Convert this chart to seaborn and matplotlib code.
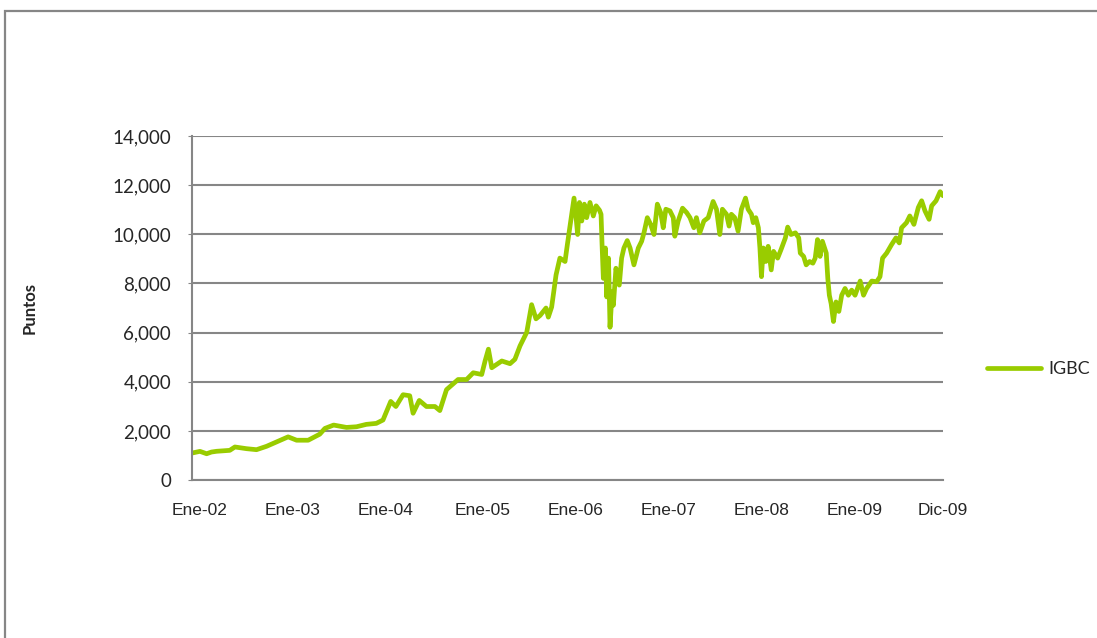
import pandas as pd
import numpy as np
import matplotlib.pyplot as plt
from matplotlib.patches import Rectangle
from matplotlib.ticker import FuncFormatter
import seaborn as sns

# Indice IGBC (puntos)
fechas = [
    '2002-01-02', '2002-02-01', '2002-02-27', '2002-03-18', '2002-04-07', '2002-05-28',
    '2002-06-17', '2002-08-01', '2002-09-09', '2002-10-18', '2002-11-26', '2003-01-10',
    '2003-02-12', '2003-03-29', '2003-05-13', '2003-06-02', '2003-07-06', '2003-08-25',
    '2003-10-03', '2003-11-10', '2003-12-19', '2004-01-14', '2004-02-13', '2004-03-04',
    '2004-04-01', '2004-04-27', '2004-05-10', '2004-06-03', '2004-07-01', '2004-08-03',
    '2004-08-22', '2004-09-17', '2004-11-01', '2004-12-04', '2004-12-30', '2005-02-01',
    '2005-02-14', '2005-02-27', '2005-03-12', '2005-04-20', '2005-05-22', '2005-06-10',
    '2005-06-30', '2005-07-26', '2005-08-14', '2005-08-31', '2005-09-16', '2005-10-09',
    '2005-10-18', '2005-10-31', '2005-11-17', '2005-12-02', '2005-12-22', '2005-12-31',
    '2006-01-17', '2006-01-26', '2006-02-03', '2006-02-09', '2006-02-16', '2006-02-25',
    '2006-03-07', '2006-03-16', '2006-03-29', '2006-04-11', '2006-04-22', '2006-05-05',
    '2006-05-11', '2006-05-15', '2006-05-20', '2006-05-28', '2006-06-02', '2006-06-09',
    '2006-06-15', '2006-06-23', '2006-06-28', '2006-07-08', '2006-07-21', '2006-07-30',
    '2006-08-08', '2006-08-21', '2006-09-01', '2006-09-16', '2006-10-03', '2006-10-16',
    '2006-10-25', '2006-11-07', '2006-11-20', '2006-12-03', '2006-12-16', '2006-12-29',
    '2007-01-08', '2007-01-18', '2007-02-03', '2007-02-16', '2007-02-22', '2007-03-07',
    '2007-03-24', '2007-04-09', '2007-04-22', '2007-05-07', '2007-05-17', '2007-05-30',
    '2007-06-15', '2007-07-02', '2007-07-21', '2007-08-03', '2007-08-16', '2007-08-26',
    '2007-09-11', '2007-09-21', '2007-09-30', '2007-10-13', '2007-10-26', '2007-11-08',
    '2007-11-24', '2007-12-04', '2007-12-17', '2007-12-24', '2008-01-03', '2008-01-13',
    '2008-01-19', '2008-01-25', '2008-02-01', '2008-02-11', '2008-02-20', '2008-03-03',
    '2008-03-12', '2008-03-28', '2008-04-10', '2008-04-27', '2008-05-06', '2008-05-19',
    '2008-06-05', '2008-06-18', '2008-06-24', '2008-07-07', '2008-07-17', '2008-07-30',
    '2008-08-12', '2008-08-21', '2008-08-30', '2008-09-09', '2008-09-18', '2008-10-03',
    '2008-10-09', '2008-10-15', '2008-10-22', '2008-10-31', '2008-11-10', '2008-11-21',
    '2008-12-02', '2008-12-15', '2008-12-28', '2009-01-10', '2009-01-23', '2009-02-12',
    '2009-02-25', '2009-03-09', '2009-03-29', '2009-04-17', '2009-04-30', '2009-05-10',
    '2009-05-26', '2009-06-14', '2009-07-01', '2009-07-14', '2009-07-23', '2009-08-11',
    '2009-08-24', '2009-09-09', '2009-09-26', '2009-10-09', '2009-10-22', '2009-11-07',
    '2009-11-17', '2009-12-04', '2009-12-20', '2009-12-31',
]
igbc = [
    1100, 1167, 1070, 1140, 1170, 1208,
    1345, 1276, 1235, 1372, 1550, 1757,
    1620, 1620, 1866, 2100, 2237, 2141,
    2168, 2265, 2306, 2443, 3198, 2992,
    3472, 3431, 2717, 3239, 2992, 2992,
    2827, 3678, 4090, 4090, 4365, 4296,
    4845, 5325, 4570, 4845, 4735, 4913,
    5462, 6011, 7137, 6560, 6698, 7000,
    6629, 7041, 8345, 9031, 8894, 9580,
    10815, 11474, 10678, 9992, 11296, 10541,
    11227, 10678, 11296, 10747, 11159, 10980,
    10815, 9580, 8207, 9443, 7453, 9031,
    6217, 7659, 7110, 8619, 7933, 9031,
    9443, 9745, 9443, 8757, 9443, 9717,
    10060, 10678, 10404, 9992, 11227, 10884,
    10266, 11021, 10953, 10678, 9923, 10541,
    11063, 10884, 10678, 10266, 10678, 10060,
    10541, 10678, 11337, 11021, 9992, 11021,
    10815, 10335, 10815, 10678, 10129, 11021,
    11474, 11021, 10815, 10472, 10678, 10266,
    9443, 8276, 9443, 8894, 9511, 8551,
    9306, 9031, 9374, 9854, 10294, 9992,
    10060, 9854, 9237, 9100, 8757, 8894,
    8825, 9031, 9786, 9100, 9717, 9237,
    8207, 7521, 7178, 6451, 7247, 6862,
    7521, 7796, 7521, 7727, 7521, 8098,
    7521, 7796, 8098, 8070, 8276, 9031,
    9237, 9580, 9854, 9649, 10266, 10472,
    10747, 10404, 11090, 11365, 10953, 10609,
    11159, 11365, 11735, 11570,
]

etiquetas_x = ['Ene-02', 'Ene-03', 'Ene-04', 'Ene-05', 'Ene-06', 'Ene-07', 'Ene-08', 'Ene-09', 'Dic-09']
fechas_etiquetas = ['2002-02-01', '2003-01-29', '2004-01-25', '2005-02-06', '2006-02-02',
                    '2007-01-30', '2008-01-26', '2009-01-23', '2009-12-31']

df = pd.DataFrame({'Fecha': pd.to_datetime(fechas), 'IGBC': igbc})

sns.set_style("white")
plt.rcParams['font.family'] = ['Liberation Sans', 'DejaVu Sans']

fig = plt.figure(figsize=(10.97, 6.38), dpi=100)
ax = fig.add_axes([0.175, 0.2476, 0.6846, 0.5392])

sns.lineplot(data=df, x='Fecha', y='IGBC', color='#99CC00', linewidth=3.4,
             label='IGBC', ax=ax)

ax.set_xlim(pd.Timestamp('2002-01-01'), pd.Timestamp('2009-12-31'))
ax.set_ylim(0, 14000)
ax.set_yticks(np.arange(0, 14001, 2000))
ax.yaxis.set_major_formatter(FuncFormatter(lambda v, p: f'{int(v):,}'))
ax.set_xticks(pd.to_datetime(fechas_etiquetas))
ax.set_xticklabels(etiquetas_x)

ax.grid(axis='y', color='#868686', linewidth=1.5)
ax.set_axisbelow(True)
for s in ['top', 'right']:
    ax.spines[s].set_visible(False)
for s in ['left', 'bottom']:
    ax.spines[s].set_color('#868686')
    ax.spines[s].set_linewidth(1.5)

ax.tick_params(axis='y', left=True, length=3, color='#868686', labelsize=13.5, pad=12)
ax.tick_params(axis='x', bottom=False, labelsize=12.5, pad=13)
for t in ax.get_yticklabels():
    t.set_family(['Lato', 'DejaVu Sans'])

ax.set_xlabel('')
ax.set_ylabel('Puntos', fontsize=12, fontweight='bold', family=['Lato', 'DejaVu Sans'])
ax.yaxis.set_label_coords(-0.205, 0.5)

ax.legend(loc='center left', bbox_to_anchor=(0.9, 0.421), bbox_transform=fig.transFigure,
          frameon=False, handlelength=3.0, handletextpad=0.4, borderpad=0, borderaxespad=0,
          prop={'family': ['Lato', 'DejaVu Sans'], 'size': 13})

# marco exterior
fig.patches.append(Rectangle((5 / 1097, -0.2), 1.2, 0.9828 + 0.2, transform=fig.transFigure,
                             fill=False, edgecolor='#868686', linewidth=1.6, zorder=0))

fig.savefig('out.png', dpi=100)
